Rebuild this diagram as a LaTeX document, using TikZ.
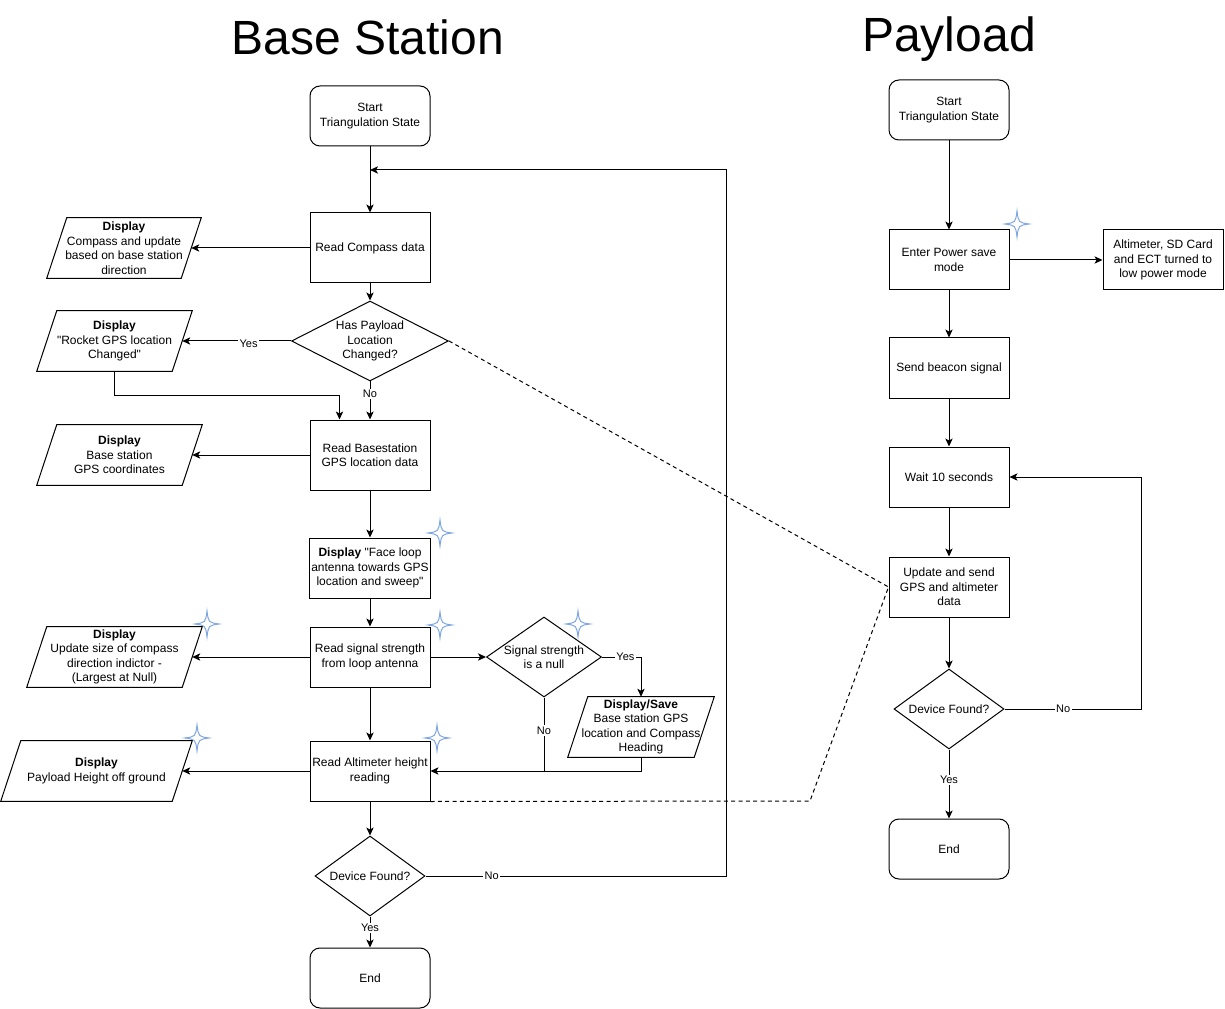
\documentclass[tikz,border=0pt]{standalone}
\usepackage{fontspec}
\setmainfont{Liberation Sans}[Ligatures=TeXOff]
\usetikzlibrary{arrows.meta,shapes.geometric,calc}
\definecolor{spk}{HTML}{7EA6E0}
\newcommand{\fsbox}{\fontsize{9}{10.9}\selectfont}
\newcommand{\fslbl}{\fontsize{8.25}{9.5}\selectfont}
\newcommand{\pgdraw}[1]{\draw[ln] ($(#1.north west)+(10,0)$) -- ($(#1.north east)+(10,0)$) -- ($(#1.south east)+(-10,0)$) -- ($(#1.south west)+(-10,0)$) -- cycle;}
\tikzset{
  ln/.style={line width=0.75pt},
  box/.style={draw, line width=0.75pt, minimum width=90pt, minimum height=45pt, inner sep=1pt, align=center, font=\fsbox},
  rbox/.style={box, rounded corners=7.5pt},
  dia/.style={draw, diamond, line width=0.75pt, inner sep=0pt},
  dtext/.style={font=\fsbox, align=center, inner sep=0pt},
  pg/.style={minimum height=45pt, inner sep=0pt, align=center, font=\fsbox},
  arr/.style={line width=0.75pt, -{Stealth[length=6pt,width=5.5pt,inset=1.5pt]}},
  lbl/.style={fill=white, inner sep=1pt, font=\fslbl},
  dsh/.style={line width=0.75pt, dash pattern=on 3pt off 2.5pt},
  title/.style={font=\fontsize{36}{40}\selectfont, anchor=base, inner sep=0pt},
  sparkle/.pic={\draw[draw=spk, fill=white, line width=0.75pt] (0,-13) .. controls (1.5,-1.5) .. (12,0) .. controls (1.5,1.5) .. (0,13) .. controls (-1.5,1.5) .. (-12,0) .. controls (-1.5,-1.5) .. (0,-13) -- cycle;}
}
\begin{document}
\begin{tikzpicture}[x=0.75pt,y=-0.75pt]
\useasboundingbox (0,0) rectangle (1225,1009);

% titles
\node[title] (t1) at (368,55) {Base Station};
\node[title] (t2) at (949,52) {Payload};

% ---------------- Base station column ----------------
\node[rbox] (st) at (370,116) {Start\\Triangulation State};
\node[box, minimum height=52.5pt] (rc) at (370,248) {Read Compass data};
\node[pg, minimum width=100.5pt] (pgc) at (124,248) {\textbf{Display}\\Compass and update\\based on base station\\direction};
\node[dia, minimum width=117.75pt, minimum height=60pt, label={[dtext]center:Has Payload\\Location\\Changed?}] (hp) at (370,341) {};
\node[pg, minimum width=101.25pt] (rg) at (114.5,341) {\textbf{Display}\\"Rocket GPS location\\Changed"};
\node[box, minimum height=52.5pt] (rb) at (370,455) {Read Basestation\\GPS location data};
\node[pg, minimum width=108.75pt] (pgb) at (119.5,455) {\textbf{Display}\\Base station\\GPS coordinates};
\node[box] (fl) at (370,568) {\textbf{Display} "Face loop\\antenna towards GPS\\location and sweep"};
\node[box] (rs) at (370,657) {Read signal strength\\from loop antenna};
\node[pg, minimum width=116.25pt] (pgu) at (114.5,657) {\textbf{Display}\\Update size of compass\\direction indictor -\\(Largest at Null)};
\node[dia, minimum width=86.25pt, minimum height=60pt, label={[dtext]center:Signal strength\\is a null}] (sn) at (544,657) {};
\node[pg, minimum width=94.5pt] (ds) at (641,727) {\textbf{Display/Save}\\Base station GPS\\location and Compass\\Heading};
\node[box] (alt) at (370,771) {Read Altimeter height\\reading};
\node[pg, minimum width=128.25pt] (pgp) at (96.5,771) {\textbf{Display}\\Payload Height off ground};
\node[dia, minimum width=82.5pt, minimum height=60pt, label={[dtext]center:Device Found?}] (df) at (370,876) {};
\node[rbox] (en) at (370,978) {End};

\pgdraw{pgc}
\pgdraw{rg}
\pgdraw{pgb}
\pgdraw{pgu}
\pgdraw{ds}
\pgdraw{pgp}

\coordinate (lr) at (726,170);
\coordinate (li) at (370,170);
\coordinate (dk) at (810,801);

\draw[arr] (st) -- (rc);
\draw[arr] (df.east) -- node[lbl,pos=0.22]{No} (df.east -| lr) -- (lr) -- (li);
\draw[arr] (rc.west) -- (pgc.east);
\draw[arr] (rc) -- (hp);
\draw[arr] (hp.west) -- node[lbl,pos=0.39,yshift=-2pt]{Yes} (rg.east);
\draw[arr] (hp.south) -- node[lbl,pos=0.33]{No} (rb.north);
\draw[arr] (rg.south) -- ++(0,24) -| ($(rb.north west)+(30,0)$);
\draw[arr] (rb.west) -- (pgb.east);
\draw[arr] (rb) -- (fl);
\draw[arr] (fl) -- (rs);
\draw[arr] (rs.west) -- (pgu.east);
\draw[arr] (rs.east) -- (sn.west);
\draw[arr] (sn.east) -| node[lbl,pos=0.3]{Yes} (ds.north);
\draw[ln] (sn.south) -- node[lbl,pos=0.45]{No} (sn.south |- alt.east);
\draw[arr] (ds.south) |- (alt.east);
\draw[arr] (rs) -- (alt);
\draw[arr] (alt.west) -- (pgp.east);
\draw[arr] (alt) -- (df);
\draw[arr] (df.south) -- node[lbl,pos=0.37]{Yes} (en.north);

% ---------------- Payload column ----------------
\node[rbox] (pst) at (949,110) {Start\\Triangulation State};
\node[box] (pw) at (949,260) {Enter Power save\\mode};
\node[box] (palt) at (1163,260) {Altimeter, SD Card\\and ECT turned to\\low power mode};
\node[box] (pb) at (949,368) {Send beacon signal};
\node[box] (pwt) at (949,477) {Wait 10 seconds};
\node[box] (pu) at (949,587) {Update and send\\GPS and altimeter\\data};
\node[dia, minimum width=82.5pt, minimum height=60pt, label={[dtext]center:Device Found?}] (pdf) at (949,709) {};
\node[rbox] (pen) at (949,849) {End};

\coordinate (pr) at (1141,477);

\draw[arr] (pst) -- (pw);
\draw[arr] (pw.east) -- (palt.west);
\draw[arr] (pw) -- (pb);
\draw[arr] (pb) -- (pwt);
\draw[arr] (pwt) -- (pu);
\draw[arr] (pu) -- (pdf);
\draw[arr] (pdf.east) -- node[lbl,pos=0.43]{No} (pdf.east -| pr) -- (pr) -- (pwt.east);
\draw[arr] (pdf.south) -- node[lbl,pos=0.44]{Yes} (pen.north);

% dashed links
\draw[dsh] (hp.east) -- (pu.west);
\draw[dsh] (alt.south east) -- (dk) -- (pu.west);

% sparkles
\pic at (440,533) {sparkle};
\pic at (440,625) {sparkle};
\pic at (207,624) {sparkle};
\pic at (578,624) {sparkle};
\pic at (437,738) {sparkle};
\pic at (197,738) {sparkle};
\pic at (1017,224) {sparkle};
\end{tikzpicture}
\end{document}
